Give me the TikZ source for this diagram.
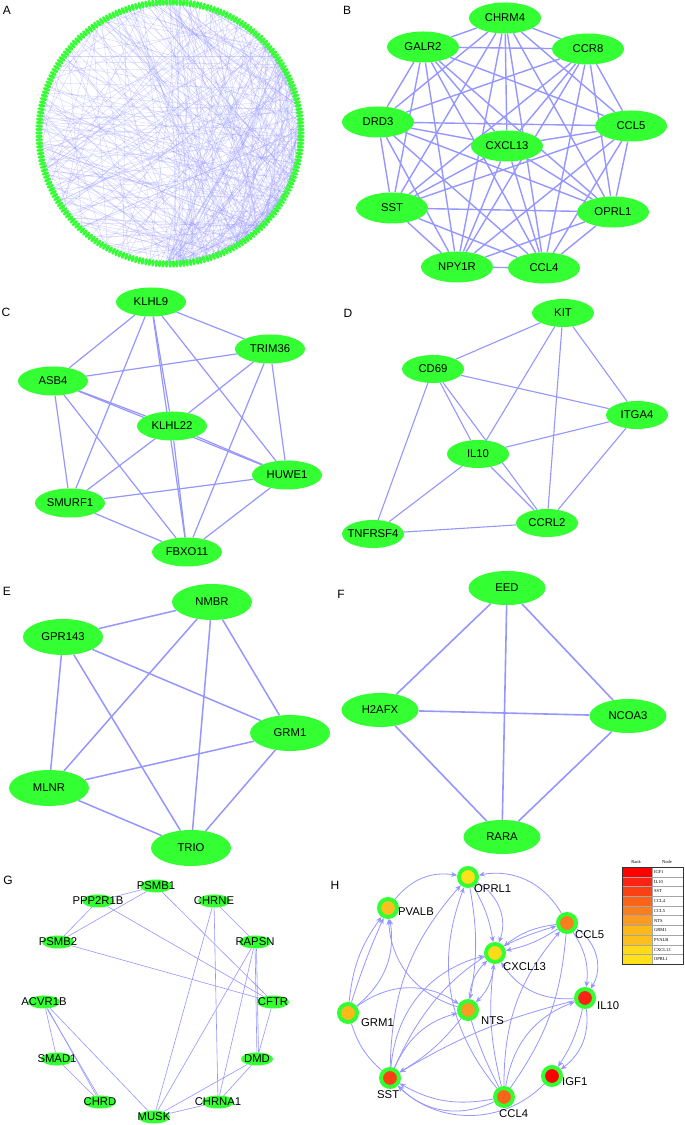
\documentclass[tikz,border=0pt]{standalone}
\usepackage{fontspec}
\setmainfont{Liberation Sans}
\newfontfamily\legfont{Liberation Serif}
\usetikzlibrary{shapes.geometric,arrows.meta}
\pgfdeclarelayer{bg}
\pgfdeclarelayer{paper}
\pgfsetlayers{paper,bg,main}
\definecolor{ngreen}{RGB}{51,255,51}
\definecolor{eblue}{RGB}{150,150,255}
\definecolor{lgA}{RGB}{255,0,0}
\definecolor{lgB}{RGB}{250,35,20}
\definecolor{lgC}{RGB}{250,65,20}
\definecolor{lgD}{RGB}{250,100,25}
\definecolor{lgE}{RGB}{250,125,30}
\definecolor{lgF}{RGB}{250,155,35}
\definecolor{lgG}{RGB}{252,185,25}
\definecolor{lgH}{RGB}{252,192,30}
\definecolor{lgI}{RGB}{255,218,25}
\definecolor{lgJ}{RGB}{255,225,25}
\newcommand\nm[1]{\makebox[0pt]{#1}}
\begin{document}
\begin{tikzpicture}[x=1pt,y=1pt,
  lbl/.style={font=\fontsize{11.3}{13}\selectfont},
  panel/.style={font=\fontsize{12}{14}\selectfont, inner sep=0pt},
  gn/.style={ellipse, fill=ngreen, inner sep=0pt, lbl},
  bn/.style={gn, minimum width=72, minimum height=31},
  cn/.style={gn, minimum width=70, minimum height=29},
  dn/.style={gn, minimum width=62, minimum height=28},
  en/.style={gn, minimum width=80, minimum height=36},
  fn/.style={gn, minimum width=77, minimum height=34},
  gsn/.style={gn, minimum width=32, minimum height=13},
  an/.style={ellipse, fill=ngreen, inner sep=0pt, minimum width=7.5, minimum height=3.4},
  aedge/.style={draw=eblue, line width=0.45, opacity=0.38},
  bedge/.style={draw=eblue, line width=1.4},
  cedge/.style={draw=eblue, line width=1.2},
  dedge/.style={draw=eblue, line width=1.1},
  eedge/.style={draw=eblue, line width=1.5},
  fedge/.style={draw=eblue, line width=1.6},
  gedge/.style={draw=eblue, line width=0.6},
  hn/.style={circle, draw=ngreen, line width=4, minimum size=18, inner sep=0pt},
  hl/.style={anchor=west, font=\fontsize{11.3}{13}\selectfont, inner sep=0pt},
  hline/.style={draw=eblue, line width=0.8},
  hedge/.style={hline, -{Stealth[length=6pt,width=5pt]}},
  legc/.style={draw=gray!70, minimum width=30, minimum height=9.7, inner sep=0pt, anchor=north west},
  legt/.style={draw=gray!70, minimum width=31, minimum height=9.7, inner sep=0pt, anchor=north west},
  legf/.style={font=\legfont\fontsize{4.5}{5}\selectfont, inner sep=0pt}
]
\useasboundingbox (0,0) rectangle (685,1125);
\begin{pgfonlayer}{paper}
\fill[white] (0,0) rectangle (685,1125);
\end{pgfonlayer}

% ---------------- Panel A ----------------
\node[panel] (labA) at (7,1115) {A};
\begin{scope}[shift={(170,992)}]
\foreach \i in {0,...,239} {
  \pgfmathsetmacro\ang{\i*1.5}
  \node[an, rotate=\ang] (a\i) at (\ang:131) {};
}
\end{scope}
\begin{pgfonlayer}{bg}
\pgfmathsetseed{4242}
\foreach \k in {1,...,150} {
  \pgfmathtruncatemacro\p{random(0,239)}
  \pgfmathtruncatemacro\q{random(0,239)}
  \draw[aedge] (a\p.center) -- (a\q.center);
}
\foreach \k in {1,...,150} {
  \pgfmathtruncatemacro\p{random(185,232)}
  \pgfmathtruncatemacro\q{random(0,239)}
  \draw[aedge] (a\p.center) -- (a\q.center);
}
\foreach \k in {1,...,25} {
  \pgfmathtruncatemacro\p{random(178,183)}
  \pgfmathtruncatemacro\q{random(0,70)}
  \draw[aedge] (a\p.center) -- (a\q.center);
}
\foreach \k in {1,...,60} {
  \pgfmathtruncatemacro\p{random(0,30)}
  \pgfmathtruncatemacro\q{random(0,239)}
  \draw[aedge] (a\p.center) -- (a\q.center);
}
\end{pgfonlayer}

% ---------------- Panel B ----------------
\node[panel] (labB) at (347,1115) {B};
\node[bn] (bCHRM4) at (505,1107) {\nm{CHRM4}};
\node[bn] (bGALR2) at (423,1078) {\nm{GALR2}};
\node[bn] (bCCR8) at (588,1076) {\nm{CCR8}};
\node[bn] (bDRD3) at (378,1003) {\nm{DRD3}};
\node[bn] (bCCL5) at (631,999) {\nm{CCL5}};
\node[bn] (bCXCL13) at (507,979) {\nm{CXCL13}};
\node[bn] (bSST) at (392,917) {\nm{SST}};
\node[bn] (bOPRL1) at (613,913) {\nm{OPRL1}};
\node[bn] (bNPY1R) at (457,858) {\nm{NPY1R}};
\node[bn] (bCCL4) at (544,857) {\nm{CCL4}};
\begin{pgfonlayer}{bg}
\foreach \u [count=\i] in {CHRM4,GALR2,CCR8,DRD3,CCL5,CXCL13,SST,OPRL1,NPY1R,CCL4} {
  \foreach \v [count=\j] in {CHRM4,GALR2,CCR8,DRD3,CCL5,CXCL13,SST,OPRL1,NPY1R,CCL4} {
    \ifnum\j>\i \draw[bedge] (b\u) -- (b\v); \fi
  }
}
\end{pgfonlayer}

% ---------------- Panel C ----------------
\node[panel] (labC) at (6,813) {C};
\node[cn] (cKLHL9) at (151,823) {\nm{KLHL9}};
\node[cn] (cTRIM36) at (270,776) {\nm{TRIM36}};
\node[cn] (cASB4) at (53,744) {\nm{ASB4}};
\node[cn] (cKLHL22) at (172,699) {\nm{KLHL22}};
\node[cn] (cHUWE1) at (287,650) {\nm{HUWE1}};
\node[cn] (cSMURF1) at (70,622) {\nm{SMURF1}};
\node[cn] (cFBXO11) at (187,573) {\nm{FBXO11}};
\begin{pgfonlayer}{bg}
\foreach \u/\v in {KLHL9/ASB4, KLHL9/SMURF1, KLHL9/KLHL22, KLHL9/FBXO11, KLHL9/HUWE1, KLHL9/TRIM36,
  TRIM36/ASB4, TRIM36/KLHL22, TRIM36/FBXO11, TRIM36/HUWE1, ASB4/KLHL22, ASB4/HUWE1, ASB4/SMURF1,
  ASB4/FBXO11, KLHL22/HUWE1, KLHL22/SMURF1, KLHL22/FBXO11, SMURF1/HUWE1, SMURF1/FBXO11, HUWE1/FBXO11}
  \draw[cedge] (c\u) -- (c\v);
\end{pgfonlayer}

% ---------------- Panel D ----------------
\node[panel] (labD) at (348,812) {D};
\node[dn] (dKIT) at (563,812) {\nm{KIT}};
\node[dn] (dCD69) at (433,756) {\nm{CD69}};
\node[dn] (dITGA4) at (637,710) {\nm{ITGA4}};
\node[dn] (dIL10) at (478,671) {\nm{IL10}};
\node[dn] (dCCRL2) at (547,602) {\nm{CCRL2}};
\node[dn] (dTNFRSF4) at (373,591) {\nm{TNFRSF4}};
\begin{pgfonlayer}{bg}
\foreach \u/\v in {KIT/CD69, KIT/IL10, KIT/CCRL2, KIT/ITGA4, CD69/ITGA4, CD69/IL10, CD69/CCRL2,
  CD69/TNFRSF4, IL10/ITGA4, IL10/TNFRSF4, IL10/CCRL2, ITGA4/CCRL2, TNFRSF4/CCRL2}
  \draw[dedge] (d\u) -- (d\v);
\end{pgfonlayer}

% ---------------- Panel E ----------------
\node[panel] (labE) at (7,534) {E};
\node[en] (eNMBR) at (212,523) {\nm{NMBR}};
\node[en] (eGPR143) at (63,488) {\nm{GPR143}};
\node[en] (eGRM1) at (290,392) {\nm{GRM1}};
\node[en] (eMLNR) at (49,337) {\nm{MLNR}};
\node[en] (eTRIO) at (191,277) {\nm{TRIO}};
\begin{pgfonlayer}{bg}
\foreach \u/\v in {NMBR/GPR143, NMBR/GRM1, NMBR/MLNR, NMBR/TRIO, GPR143/GRM1, GPR143/MLNR,
  GPR143/TRIO, GRM1/MLNR, GRM1/TRIO, MLNR/TRIO}
  \draw[eedge] (e\u) -- (e\v);
\end{pgfonlayer}

% ---------------- Panel F ----------------
\node[panel] (labF) at (341,531) {F};
\node[fn] (fEED) at (507,537) {\nm{EED}};
\node[fn] (fH2AFX) at (380,415) {\nm{H2AFX}};
\node[fn] (fNCOA3) at (628,409) {\nm{NCOA3}};
\node[fn] (fRARA) at (502,288) {\nm{RARA}};
\begin{pgfonlayer}{bg}
\foreach \u/\v in {EED/H2AFX, EED/NCOA3, EED/RARA, H2AFX/NCOA3, H2AFX/RARA, NCOA3/RARA}
  \draw[fedge] (f\u) -- (f\v);
\end{pgfonlayer}

% ---------------- Panel G ----------------
\node[panel] (labG) at (8,245) {G};
\node[gsn] (gPSMB1) at (156,239) {\nm{PSMB1}};
\node[gsn] (gPPP2R1B) at (98,224) {\nm{PPP2R1B}};
\node[gsn] (gCHRNE) at (214,224) {\nm{CHRNE}};
\node[gsn] (gPSMB2) at (58,183) {\nm{PSMB2}};
\node[gsn] (gRAPSN) at (255,183) {\nm{RAPSN}};
\node[gsn] (gACVR1B) at (44,123) {\nm{ACVR1B}};
\node[gsn] (gCFTR) at (273,123) {\nm{CFTR}};
\node[gsn] (gSMAD1) at (57,66) {\nm{SMAD1}};
\node[gsn] (gDMD) at (257,66) {\nm{DMD}};
\node[gsn] (gCHRD) at (100,23) {\nm{CHRD}};
\node[gsn] (gCHRNA1) at (218,23) {\nm{CHRNA1}};
\node[gsn] (gMUSK) at (154,8) {\nm{MUSK}};
\begin{pgfonlayer}{bg}
\foreach \u/\v in {PSMB1/PPP2R1B, PSMB1/PSMB2, PPP2R1B/PSMB2, PSMB1/CFTR, PPP2R1B/CFTR, PSMB2/CFTR,
  CHRNE/RAPSN, CHRNE/MUSK, CHRNE/CHRNA1, RAPSN/MUSK, RAPSN/CHRNA1, RAPSN/DMD, CFTR/DMD,
  DMD/MUSK, DMD/CHRNA1, CHRNA1/MUSK, ACVR1B/SMAD1, ACVR1B/CHRD, ACVR1B/MUSK, SMAD1/CHRD}
  \draw[gedge] (g\u) -- (g\v);
\draw[gedge] ([xshift=1.5]gRAPSN.south) -- ([xshift=1.5]gDMD.north);
\draw[gedge] ([xshift=3]gACVR1B.south) -- ([xshift=-2]gCHRD.north);
\end{pgfonlayer}

% ---------------- Panel H ----------------
\node[panel] (labH) at (335,240) {H};
\node[hn, fill=lgJ] (hOPRL1) at (468,248) {};
\node[hn, fill=lgH] (hPVALB) at (388,217) {};
\node[hn, fill=lgE] (hCCL5) at (567,202) {};
\node[hn, fill=lgI] (hCXCL13) at (495,172) {};
\node[hn, fill=lgB] (hIL10) at (585,127) {};
\node[hn, fill=lgG] (hGRM1) at (348,112) {};
\node[hn, fill=lgF] (hNTS) at (468,115) {};
\node[hn, fill=lgC] (hSST) at (390,47) {};
\node[hn, fill=lgA] (hIGF1) at (552,49) {};
\node[hn, fill=lgD] (hCCL4) at (504,28) {};
\node[hl] (tOPRL1) at (474,236) {OPRL1};
\node[hl] (tPVALB) at (398,213) {PVALB};
\node[hl] (tCCL5) at (575,190) {CCL5};
\node[hl] (tCXCL13) at (503,158) {CXCL13};
\node[hl] (tIL10) at (597,119) {IL10};
\node[hl] (tGRM1) at (361,102) {GRM1};
\node[hl] (tNTS) at (481,104) {NTS};
\node[hl] (tSST) at (377,30) {SST};
\node[hl] (tIGF1) at (562,43) {IGF1};
\node[hl] (tCCL4) at (499,11) {CCL4};
\begin{pgfonlayer}{bg}
\draw[hedge] (hPVALB) to[bend left=30] (hOPRL1);
\draw[hedge] (hCCL5) to[bend right=35] (hOPRL1);
\draw[hedge] (hOPRL1) to[bend left=10] (hCXCL13);
\draw[hedge] (hOPRL1) to[bend left=40] (hCXCL13);
\draw[hedge] (hSST) to[bend left=20] (hOPRL1);
\draw[hedge] (hCCL4) to[bend left=30] (hOPRL1);
\draw[hedge] (hOPRL1) to[bend left=10] (hNTS);
\draw[hedge] (hCCL5) to[bend left=10] (hCXCL13);
\draw[hedge] (hCCL5) to[bend right=15] (hCXCL13);
\draw[hedge] (hIL10) to[bend left=30] (hCXCL13);
\draw[hedge] (hCCL5) to[bend left=20] (hIL10);
\draw[hedge] (hCCL5) to[bend left=45] (hIL10);
\draw[hedge] (hSST) to[bend left=25] (hCCL5);
\draw[hedge] (hCXCL13) to[bend left=20] (hNTS);
\draw[hedge] (hNTS) to[bend left=20] (hCXCL13);
\draw[hedge] (hSST) to[bend left=35] (hCXCL13);
\draw[hedge] (hGRM1) to[bend left=35] (hNTS);
\draw[hedge] (hNTS) to[bend left=35] (hPVALB);
\draw[hedge] (hGRM1) to[bend left=15] (hPVALB);
\draw[hedge] (hGRM1) to[bend left=3] (hPVALB);
\draw[hedge] (hGRM1) to[bend right=30] (hPVALB);
\draw[hline] (hGRM1) to[bend right=15] (hSST);
\draw[hedge] (hSST) to[bend left=25] (hNTS);
\draw[hedge] (hNTS) to[bend left=10] (hSST);
\draw[hedge] (hIL10) to[bend right=8] (hSST);
\draw[hedge] (hCCL4) to[bend left=30] (hIL10);
\draw[hedge] (hCCL4) to[bend left=20] (hCCL5);
\draw[hline] (hCCL5) to[bend left=15] (hCCL4);
\draw[hedge] (hCCL4) to[bend left=20] (hSST);
\draw[hedge] (hCCL4) to[bend left=35] (hSST);
\draw[hedge] (hIGF1) to[bend left=45] (hSST);
\draw[hedge] (hIL10) to[bend left=30] (hIGF1);
\draw[hedge] (hIL10) to[bend left=10] (hIGF1);
\draw[hline] (hCCL4) to[bend left=5] (hNTS);
\draw[hedge] (hCCL4) to[bend left=10] (hCXCL13);
\end{pgfonlayer}

% legend
\node[legf] (legRank) at (636,263) {Rank};
\node[legf] (legNode) at (667,263) {Node};
\foreach \c/\t [count=\i] in {lgA/IGF1, lgB/IL10, lgC/SST, lgD/CCL4, lgE/CCL5, lgF/NTS, lgG/GRM1, lgH/PVALB, lgI/CXCL13, lgJ/OPRL1} {
  \pgfmathsetmacro\yy{258-(\i-1)*9.7}
  \node[legc, fill=\c] (lc\i) at (622,\yy) {};
  \node[legt] (lt\i) at (652,\yy) {};
  \node[legf, anchor=west] (ltx\i) at ([xshift=2]lt\i.west) {\t};
}
\draw[black!80, line width=0.5] (lc1.north west) rectangle (lt10.south east);
\end{tikzpicture}
\end{document}
